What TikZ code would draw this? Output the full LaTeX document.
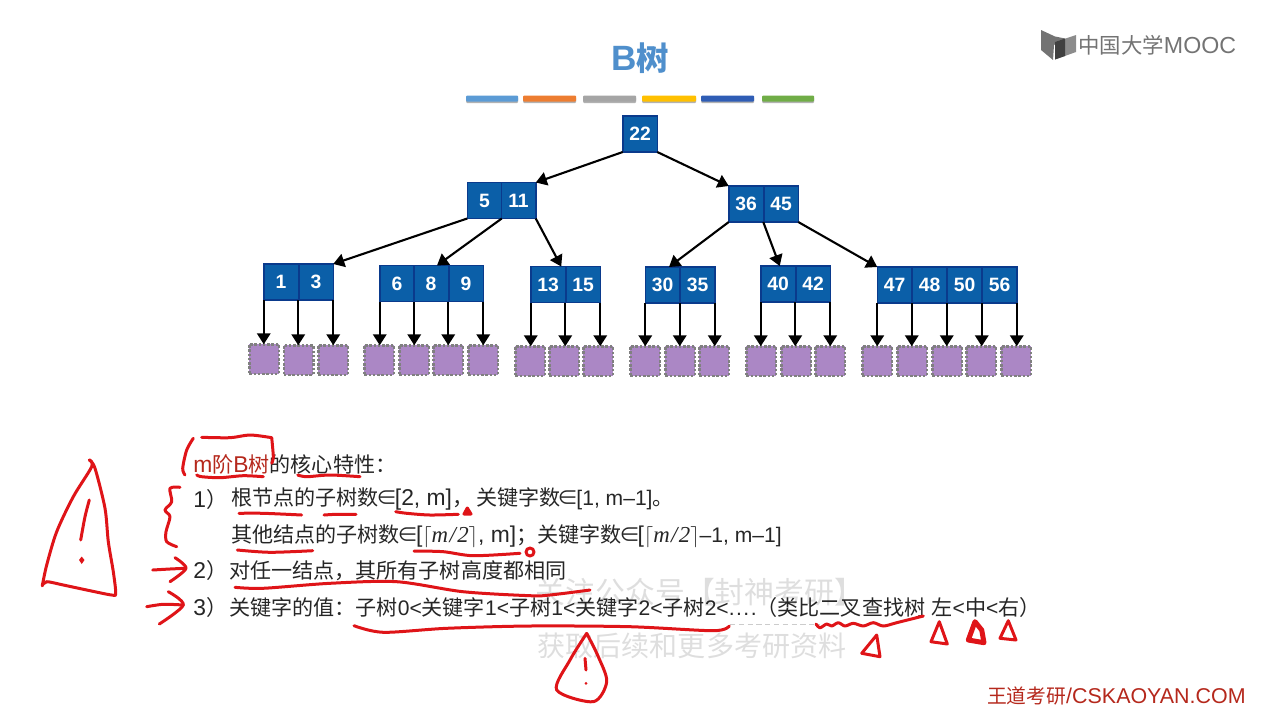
\documentclass[tikz,border=0pt]{standalone}
\usepackage{fontspec}
\setmainfont{Liberation Sans}
\newfontfamily\cjk[Scale=0.923]{Noto Sans CJK SC}
\newfontfamily\serifit{Liberation Serif}
\usetikzlibrary{arrows.meta,shadows}
\definecolor{keyblue}{HTML}{0B5FA8}
\definecolor{keyedge}{HTML}{0A3A8C}
\definecolor{leafpurple}{HTML}{AB87C5}
\definecolor{inkred}{HTML}{DF1418}
\definecolor{titleblue}{HTML}{4F8FCC}
\definecolor{brandred}{HTML}{B5281C}
\definecolor{barblue}{HTML}{5B9BD5}
\definecolor{barorange}{HTML}{ED7D31}
\definecolor{bargrey}{HTML}{A5A5A5}
\definecolor{baryellow}{HTML}{FFC000}
\definecolor{bardeep}{HTML}{2F5DB5}
\definecolor{bargreen}{HTML}{70AD47}
\newcommand{\cn}[1]{{\cjk #1}}
\newcommand{\lt}[1]{{\fontsize{12}{15}\selectfont #1}}
\newcommand{\elem}{\makebox[0.32cm]{\cn{∈}}}
\newcommand{\halfm}{$\lceil${\serifit\itshape m\kern.06em/\kern.06em2}$\rceil$}
\tikzset{
	keybox/.style={draw=keyedge, fill=keyblue, line width=0.03cm, text=white, inner sep=0, outer sep=0, minimum width=0.69cm, minimum height=0.72cm, font=\fontsize{11}{11}\selectfont\bfseries},
	leafbox/.style={draw=black!50, fill=leafpurple, line width=0.05cm, densely dotted, inner sep=0, outer sep=0, minimum size=0.59cm},
	treeline/.style={line width=0.042cm, -{Triangle[length=0.22cm,width=0.27cm]}},
	colourbar/.style={rounded corners=0.02cm, drop shadow={shadow xshift=0cm, shadow yshift=-0.03cm, opacity=0.3, fill=black}},
	slideline/.style={anchor=west, inner sep=0, text=black!85, font=\fontsize{13}{15}\selectfont},
	redink/.style={draw=inkred, line width=0.06cm, line cap=round, line join=round},
	mark faint/.style={anchor=center, inner sep=0, text=black!13}
}

\begin{document}
\begin{tikzpicture}[x=0.02cm, y=-0.02cm]
	%%%%% START %%%%%
	\useasboundingbox (0, 0) rectangle (1280, 720);
	
	\node[anchor=center, inner sep=0, text=titleblue, font=\fontsize{20}{20}\selectfont\bfseries] (title) at (640, 58) {B\cn{树}};
	
	\fill[colourbar, fill=barblue] (466, 95.5) rectangle (518, 101.5);
	\fill[colourbar, fill=barorange] (523, 95.5) rectangle (576, 101.5);
	\fill[colourbar, fill=bargrey] (583, 95.5) rectangle (636, 101.5);
	\fill[colourbar, fill=baryellow] (642, 95.5) rectangle (696, 101.5);
	\fill[colourbar, fill=bardeep] (701, 95.5) rectangle (754, 101.5);
	\fill[colourbar, fill=bargreen] (762, 95.5) rectangle (814, 101.5);
	
	\node[keybox] (k22) at (640, 134) {22};
	
	\node[keybox] (k5) at (484.5, 200.5) {5};
	\node[keybox] (k11) at (518.5, 200.5) {11};
	\node[keybox] (k36) at (746, 204) {36};
	\node[keybox] (k45) at (781, 204) {45};
	
	\node[keybox] (k1) at (281, 282) {1};
	\node[keybox] (k3) at (316, 282) {3};
	
	\node[keybox] (k6) at (397, 283.5) {6};
	\node[keybox] (k8) at (431, 283.5) {8};
	\node[keybox] (k9) at (466, 283.5) {9};
	
	\node[keybox] (k13) at (548, 284.5) {13};
	\node[keybox] (k15) at (583, 284.5) {15};
	
	\node[keybox] (k30) at (662.5, 285) {30};
	\node[keybox] (k35) at (697.5, 285) {35};
	
	\node[keybox] (k40) at (778, 284) {40};
	\node[keybox] (k42) at (813, 284) {42};
	
	\node[keybox] (k47) at (894.5, 285) {47};
	\node[keybox] (k48) at (929.5, 285) {48};
	\node[keybox] (k50) at (964.5, 285) {50};
	\node[keybox] (k56) at (999.5, 285) {56};
	
	\node[leafbox] (a1) at (264, 359) {};
	\node[leafbox] (a2) at (298.5, 360) {};
	\node[leafbox] (a3) at (333, 360) {};
	
	\node[leafbox] (b1) at (379, 360) {};
	\node[leafbox] (b2) at (414, 360) {};
	\node[leafbox] (b3) at (448, 360) {};
	\node[leafbox] (b4) at (483, 360) {};
	
	\node[leafbox] (c1) at (530, 361) {};
	\node[leafbox] (c2) at (564, 361) {};
	\node[leafbox] (c3) at (598, 361) {};
	
	\node[leafbox] (d1) at (645, 361) {};
	\node[leafbox] (d2) at (680, 361) {};
	\node[leafbox] (d3) at (714, 361) {};
	
	\node[leafbox] (e1) at (761, 361) {};
	\node[leafbox] (e2) at (796, 361) {};
	\node[leafbox] (e3) at (830, 361) {};
	
	\node[leafbox] (f1) at (877, 361) {};
	\node[leafbox] (f2) at (912, 361) {};
	\node[leafbox] (f3) at (947, 361) {};
	\node[leafbox] (f4) at (981, 361) {};
	\node[leafbox] (f5) at (1016, 361) {};
	
	\draw[treeline] (k22.south west) -- (k11.north east);
	\draw[treeline] (k22.south east) -- (k36.north west);
	\draw[treeline] (k5.south west) -- (k3.north east);
	\draw[treeline] (k5.south east) -- ([xshift=0.12cm]k8.north);
	\draw[treeline] (k11.south east) -- ([xshift=-0.08cm]k13.north east);
	\draw[treeline] (k36.south west) -- ([xshift=0.13cm]k30.north);
	\draw[treeline] (k36.south east) -- ([xshift=-0.31cm]k40.north east);
	\draw[treeline] (k45.south east) -- (k47.north west);
	
	\draw[treeline] (k1.south west) -- (k1.south west |- a1.north);
	\draw[treeline] (k1.south east) -- (k1.south east |- a2.north);
	\draw[treeline] (k3.south east) -- (k3.south east |- a3.north);
	\draw[treeline] (k6.south west) -- (k6.south west |- b1.north);
	\draw[treeline] (k6.south east) -- (k6.south east |- b2.north);
	\draw[treeline] (k8.south east) -- (k8.south east |- b3.north);
	\draw[treeline] (k9.south east) -- (k9.south east |- b4.north);
	\draw[treeline] (k13.south west) -- (k13.south west |- c1.north);
	\draw[treeline] (k13.south east) -- (k13.south east |- c2.north);
	\draw[treeline] (k15.south east) -- (k15.south east |- c3.north);
	\draw[treeline] (k30.south west) -- (k30.south west |- d1.north);
	\draw[treeline] (k30.south east) -- (k30.south east |- d2.north);
	\draw[treeline] (k35.south east) -- (k35.south east |- d3.north);
	\draw[treeline] (k40.south west) -- (k40.south west |- e1.north);
	\draw[treeline] (k40.south east) -- (k40.south east |- e2.north);
	\draw[treeline] (k42.south east) -- (k42.south east |- e3.north);
	\draw[treeline] (k47.south west) -- (k47.south west |- f1.north);
	\draw[treeline] (k47.south east) -- (k47.south east |- f2.north);
	\draw[treeline] (k48.south east) -- (k48.south east |- f3.north);
	\draw[treeline] (k50.south east) -- (k50.south east |- f4.north);
	\draw[treeline] (k56.south east) -- (k56.south east |- f5.north);
	
	\node[mark faint, font=\cjk\fontsize{18.4}{18.4}\selectfont] (mark1) at (700, 592) {关注公众号【封神考研】};
	\node[mark faint, font=\cjk\fontsize{17.3}{17.3}\selectfont] (mark2) at (692, 646) {获取后续和更多考研资料};
	\draw[black!20, densely dashed, line width=0.02cm] (730, 624) -- (820, 624);
	
	\node[slideline] (line0) at (193, 464) {\textcolor{brandred}{m\cn{阶}B\cn{树}}\cn{的核心特性：}};
	\node[slideline] (num1) at (193, 499) {1\cn{）}};
	\node[slideline] (line1) at (231, 499) {\cn{根节点的子树数}\elem[2, m]\cn{，}\hspace{0.06cm}\cn{关键字数}\elem\lt{[1, m–1]}\cn{。}};
	\node[slideline] (line2) at (231, 536) {\cn{其他结点的子树数}\elem[\halfm, m]\cn{；关键字数}\elem[\halfm\lt{–1, m–1]}};
	\node[slideline] (line3) at (193, 571) {2\cn{）}\hspace{0.04cm}\cn{对任一结点，其所有子树高度都相同}};
	\node[slideline] (line4) at (193, 607) {3\cn{）}\hspace{0.04cm}\cn{关键字的值：子树}\lt{0<}\cn{关键字}\lt{1<}\cn{子树}\lt{1<}\cn{关键字}\lt{2<}\cn{子树}\lt{2<.\kern.07em.\kern.07em.\kern.07em.}\cn{（类比二叉查找树} \cn{左}\lt{<}\cn{中}\lt{<}\cn{右）}};
	
	\node[anchor=east, inner sep=0, text=brandred, font=\fontsize{12.2}{13}\selectfont] (brand) at (1246, 696) {\cn{王道考研}/CSKAOYAN.COM};
	
	\fill[black!55] (1041, 30) -- (1055, 36.5) -- (1065, 38.5) -- (1054, 45) -- (1053, 60) -- (1041, 50) -- cycle;
	\fill[black!45] (1055, 42) -- (1076, 35) -- (1076, 52) -- (1055, 59.5) -- cycle;
	\fill[black!75] (1055, 42) -- (1065, 38.5) -- (1065, 56) -- (1055, 59.5) -- cycle;
	\node[anchor=west, inner sep=0, text=black!55, font=\fontsize{13.2}{15}\selectfont] (logo) at (1078, 45) {\cn{中国大学}MOOC};
	
	\draw[redink] plot[smooth] coordinates {(42.3, 585.7) (46.7, 581.7) (63.3, 585) (90, 590.7) (111.7, 595) (115.7, 593.3) (113.3, 571.7) (108.3, 541.7) (105, 508.3) (95, 468.3) (89.3, 460)};
	\draw[redink] plot[smooth] coordinates {(89.3, 460) (91.7, 466.7) (73.3, 496.7) (56.7, 531.7) (46.7, 565) (42.3, 585.7)};
	\draw[redink] plot[smooth] coordinates {(89.3, 500) (85, 516.7) (80.7, 540)};
	\fill[inkred] (81.7, 556.5) -- (84.5, 560) -- (81.7, 564) -- (79, 560) -- cycle;
	
	\draw[redink] plot[smooth] coordinates {(193.3, 438.3) (186.7, 450) (182.7, 468.3) (185, 475)};
	\draw[redink] plot[smooth] coordinates {(201.7, 437.3) (230, 437.7) (250, 435) (271.7, 437.7)};
	\draw[redink] plot[smooth] coordinates {(271.7, 437.7) (273.3, 456.7) (271.7, 463.3)};
	\draw[redink] plot[smooth] coordinates {(196.7, 475) (201.7, 476.7) (220, 477.7) (243.3, 475.7) (263.3, 476.7)};
	\draw[redink] plot[smooth] coordinates {(297.7, 475) (306.7, 476.7) (330, 475) (360, 476.7)};
	
	\draw[redink] plot[smooth] coordinates {(180, 487.3) (170, 488.3) (171.7, 501.7) (165, 510) (170, 516.7) (166, 531.7) (166.7, 541.7) (176.7, 546.7)};
	\draw[redink] plot[smooth] coordinates {(239, 513.3) (263.3, 513.3) (301.7, 515)};
	\draw[redink] plot[smooth] coordinates {(324, 515) (336.7, 514.3) (356, 514.3)};
	\draw[redink] plot[smooth] coordinates {(395.7, 511.7) (406.7, 513.3) (430, 515) (458.3, 514.3)};
	\draw[redink, fill=inkred] (464, 514) -- (467.3, 508) -- (471, 514) -- cycle;
	\draw[redink] plot[smooth] coordinates {(237.3, 550) (270, 552.3) (312.7, 550.7)};
	\draw[redink] plot[smooth] coordinates {(414, 551) (443.3, 551.7) (473.3, 555.7) (520, 553.3)};
	\draw[redink] (530, 552) circle (4);
	
	\draw[redink] plot[smooth] coordinates {(152.7, 570) (170, 569) (185, 568.3)};
	\draw[redink] plot[smooth] coordinates {(175, 557.7) (186, 568.3) (170, 581.7)};
	\draw[redink] plot[smooth] coordinates {(146.7, 606.7) (163.3, 604.3) (183.3, 605)};
	\draw[redink] plot[smooth] coordinates {(168.3, 591.7) (183.3, 605) (159.3, 624)};
	
	\draw[redink] plot[smooth] coordinates {(235, 587.3) (263, 588.3) (330, 583.3) (396.7, 581.7) (463, 591.7) (530, 595.7) (550, 595) (590, 590)};
	\draw[redink] plot[smooth] coordinates {(354, 625.7) (383.3, 632.3) (446.7, 628.3) (530, 626) (630, 626.7) (713.3, 630.7) (729.3, 626)};
	\draw[redink] plot[smooth] coordinates {(816, 624) (820, 627.7) (826.7, 624) (831.7, 626) (838.3, 622.7) (845, 626) (853.3, 623.3) (863.3, 626) (873.3, 622.7) (883.3, 626) (896.7, 622.7) (923.3, 616)};
	
	\draw[redink] (876.7, 635) -- (861.7, 653.3) -- (880, 656.7) -- cycle;
	\draw[redink] (939.3, 621.7) -- (931, 641.7) -- (947.3, 644) -- cycle;
	\draw[redink, line width=0.1cm] (975, 621.7) -- (968.3, 640) -- (984, 642.7) -- (981.7, 630) -- cycle;
	\draw[redink] (1008.3, 620.7) -- (1000, 638.3) -- (1016, 640) -- cycle;
	
	\draw[redink] plot[smooth] coordinates {(586.7, 633.3) (570, 660) (556.7, 690) (593.3, 701.7) (606.7, 681.7) (598.3, 656.7) (586.7, 633.3)};
	\draw[redink] (585, 658.3) -- (586, 670);
	\fill[inkred] (586, 683.3) circle (1.5);
	
	%%%%% END %%%%%
\end{tikzpicture}
\end{document}
